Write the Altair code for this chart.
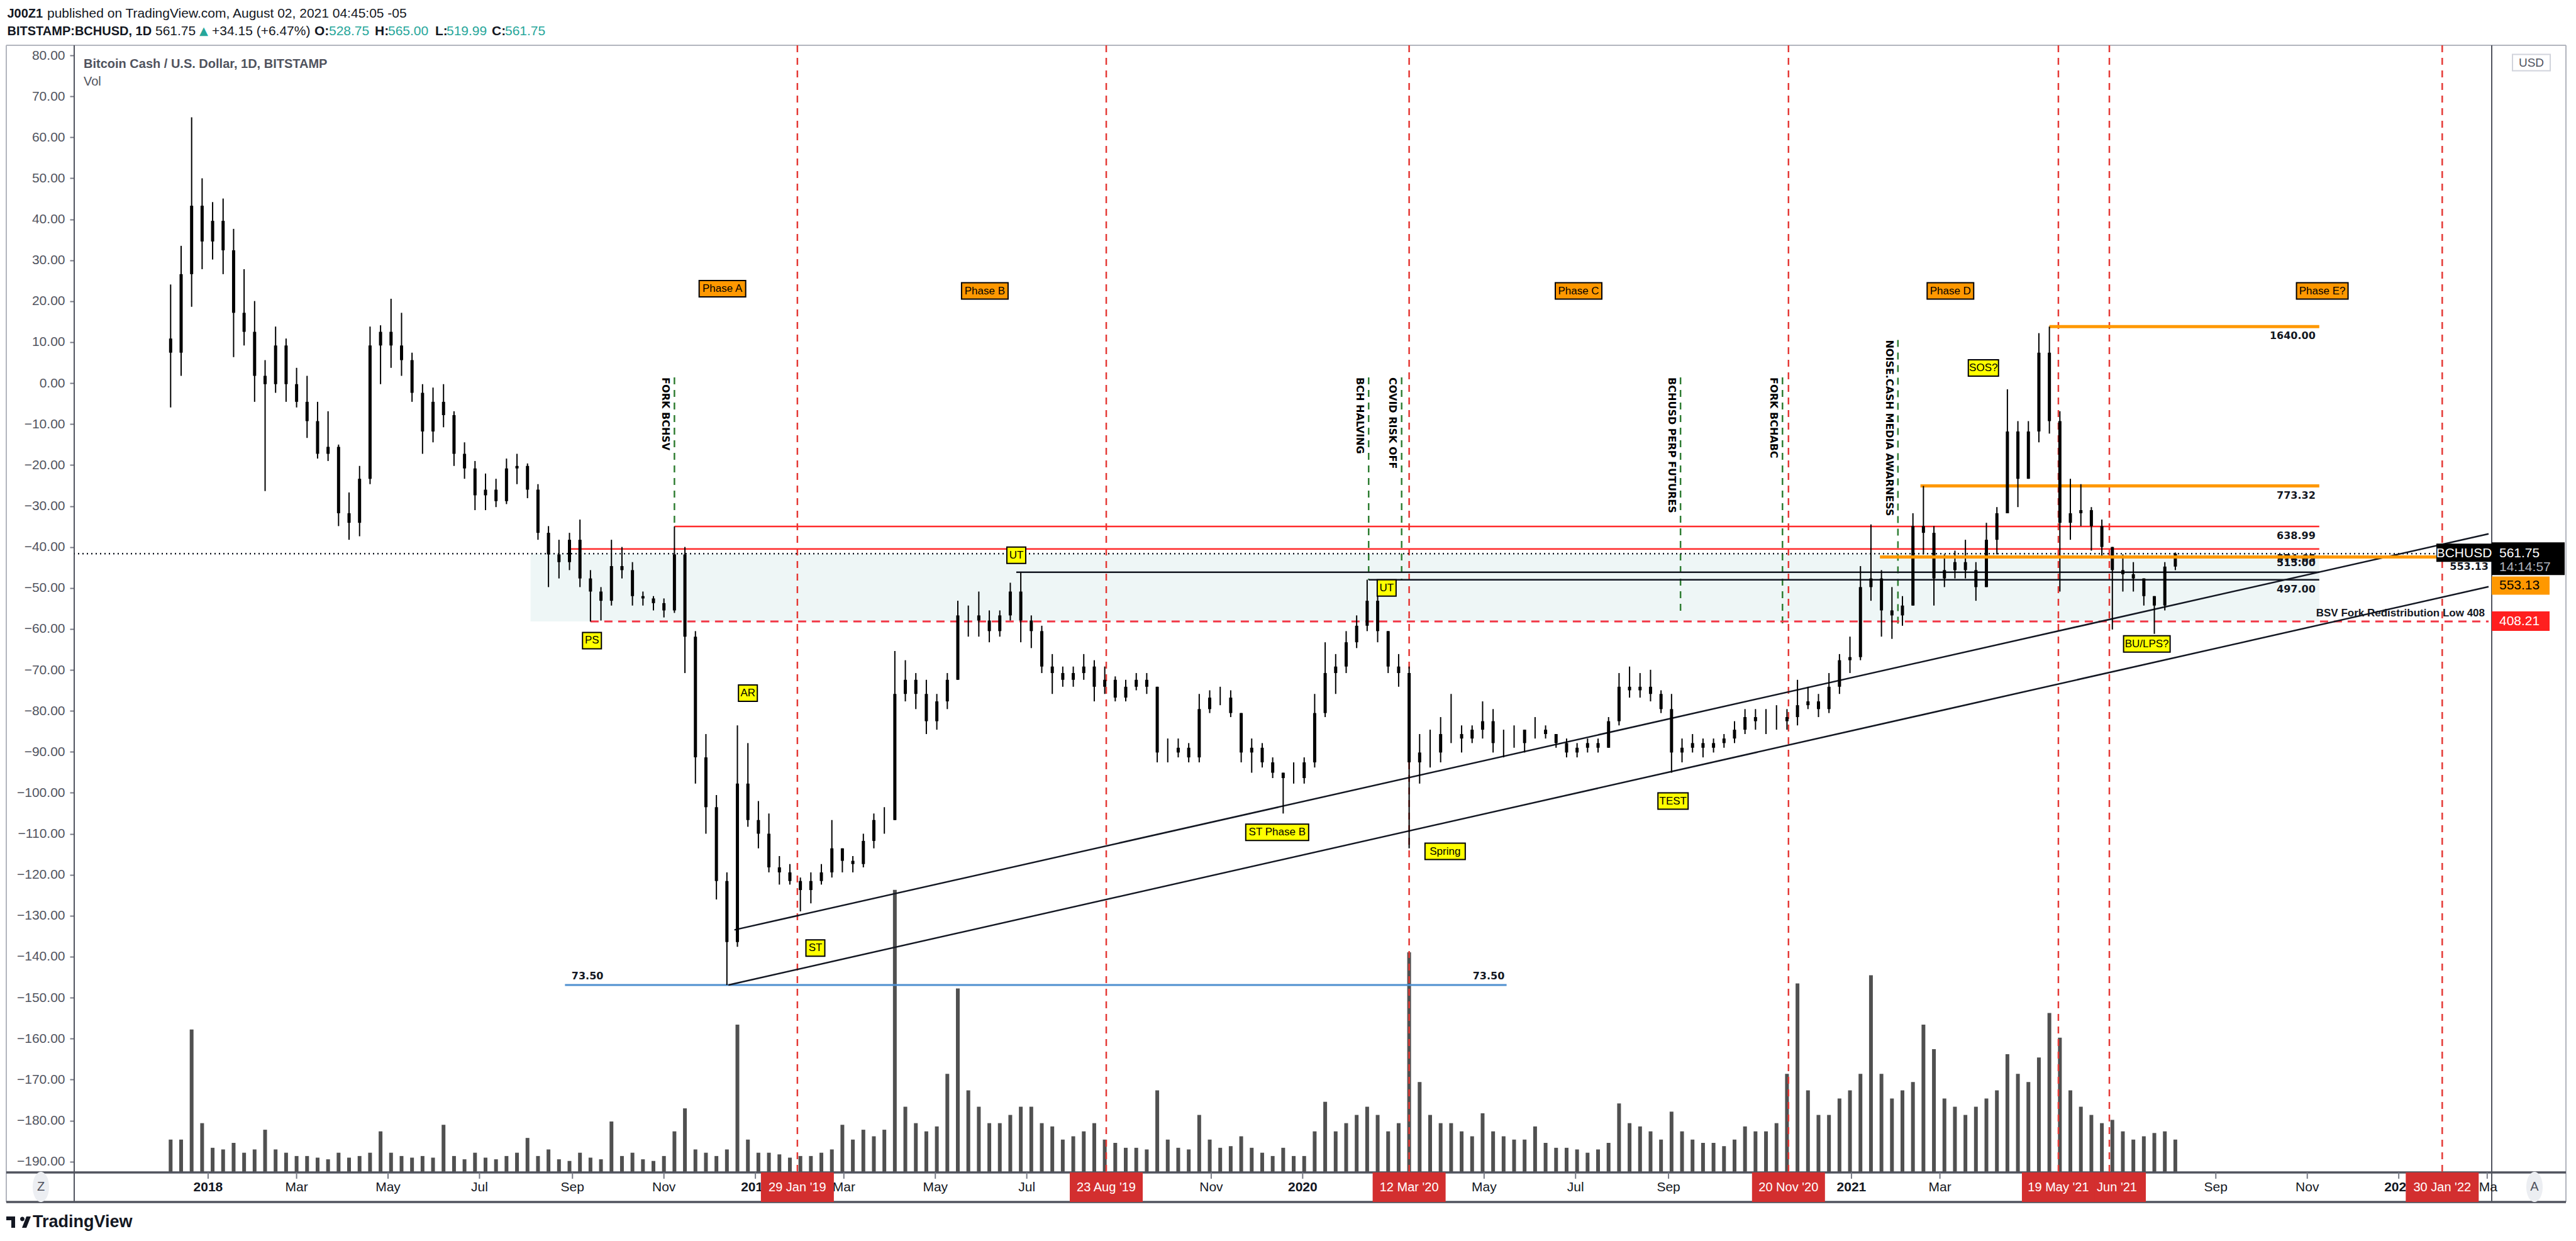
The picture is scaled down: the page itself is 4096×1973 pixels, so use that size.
import altair as alt
import pandas as pd

# ---------------- weekly candles (BITSTAMP:BCHUSD) ----------------
WEEK0 = "2017-12-04"      # Monday of the first weekly bucket
OPEN0 = 1550.0

high = [
    2000, 2400, 4400, 3300,
    # 2018
    2950, 3000, 2600, 2150, 1850,
    1400, 1640, 1550, 1350,
    1300, 1150, 1100, 940,
    750, 850, 1640, 1650, 1870,
    1750, 1450, 1250, 1230,
    1250, 1100, 950, 870,
    820, 800, 880, 900, 860,
    780, 640, 600, 620,
    660, 520, 480, 600,
    580, 540, 470, 460, 455,
    639, 580, 390, 240,
    180, 125, 250, 230, 175,
    # 2019
    165, 135, 130, 122,
    125, 130, 160, 140,
    135, 150, 165, 170,
    355, 340, 320, 310, 290,
    320, 450, 440, 470,
    430, 430, 490, 515,
    420, 400, 350, 330, 330,
    350, 340, 330, 315,
    310, 320, 320, 300, 235,
    235, 230, 290, 295,
    300, 295, 265, 235,
    230, 215, 200, 210, 215,
    # 2020
    290, 370, 350, 390,
    420, 497, 470, 390,
    350, 330, 240, 245, 260,
    290, 250, 250, 280,
    270, 245, 250, 245,
    260, 250, 240, 235, 230,
    235, 235, 260, 320,
    330, 320, 325, 295, 290,
    235, 240, 235, 235,
    240, 255, 270, 270,
    270, 275, 270, 310, 300,
    290, 320, 350, 380,
    # 2021
    530, 645, 520, 480,
    460, 680, 773.32, 640,
    560, 570, 600, 540, 650,
    700, 1220, 1050, 1050,
    1590, 1640, 1100, 800, 780,
    700, 660, 580, 560,
    540, 500, 460, 540,
    565,
]
low = [
    1120, 1300, 1800, 2150,
    # 2018
    2250, 2100, 1420, 1500, 1150,
    755, 1200, 1150, 1120,
    970, 880, 870, 640,
    600, 610, 780, 1250, 1350,
    1300, 1150, 900, 950,
    1020, 850, 800, 690,
    690, 700, 710, 780, 730,
    600, 480, 500, 520,
    480, 408, 410, 440,
    500, 440, 440, 430, 416,
    425, 320, 190, 150,
    110, 73.5, 88, 155, 140,
    # 2019
    125, 118, 118, 104,
    108, 118, 122, 125,
    125, 128, 140, 150,
    160, 280, 270, 240, 245,
    270, 310, 380, 380,
    370, 380, 410, 370,
    360, 320, 290, 300, 300,
    310, 280, 290, 280,
    280, 295, 290, 210, 210,
    215, 210, 210, 265,
    275, 260, 210, 200,
    205, 195, 165, 190, 190,
    # 2020
    205, 260, 290, 320,
    360, 390, 370, 320,
    300, 140, 190, 205, 210,
    230, 220, 230, 235,
    220, 215, 225, 220,
    235, 235, 225, 215, 215,
    220, 220, 225, 250,
    285, 285, 280, 265, 200,
    210, 220, 215, 220,
    225, 230, 240, 245,
    240, 245, 245, 250, 270,
    260, 265, 290, 320,
    # 2021
    340, 450, 380, 376,
    400, 440, 560, 440,
    480, 500, 500, 450, 480,
    560, 680, 700, 800,
    950, 990, 470, 600, 640,
    570, 550, 393, 470,
    470, 440, 385, 430,
    519.99,
]
close = [
    1450, 2100, 2900, 2450,
    # 2018
    2700, 2350, 1750, 1600, 1300,
    1250, 1500, 1250, 1150,
    1050, 900, 930, 680,
    650, 800, 1500, 1600, 1500,
    1400, 1200, 1000, 1150,
    1080, 900, 840, 740,
    760, 720, 840, 850, 760,
    620, 560, 540, 600,
    500, 470, 450, 530,
    520, 460, 455, 445, 430,
    560, 380, 215, 170,
    120, 90, 190, 160, 150,
    # 2019
    128, 125, 120, 115,
    120, 125, 140, 132,
    130, 145, 160, 160,
    290, 310, 290, 255, 280,
    310, 420, 420, 410,
    390, 420, 470, 410,
    390, 330, 320, 310, 320,
    330, 300, 310, 285,
    300, 310, 300, 220, 220,
    225, 215, 270, 285,
    285, 265, 220, 225,
    210, 200, 195, 195, 210,
    # 2020
    265, 320, 330, 370,
    400, 450, 390, 330,
    320, 210, 220, 220, 240,
    240, 235, 245, 255,
    230, 230, 230, 245,
    245, 240, 230, 220, 225,
    230, 225, 255, 300,
    295, 300, 290, 270, 220,
    225, 230, 225, 230,
    235, 245, 260, 255,
    255, 255, 260, 275, 280,
    270, 300, 340, 345,
    # 2021
    480, 500, 430, 420,
    440, 640, 620, 500,
    520, 540, 520, 480, 600,
    680, 1000, 800, 1000,
    1450, 1050, 650, 680, 690,
    640, 580, 520, 510,
    500, 460, 440, 528.75,
    561.75,
]
# weekly peak of the daily volume bars (chart units)
volume = [
    20, 20, 87, 30,
    # 2018
    15, 14, 18, 12, 14,
    26, 14, 12, 10,
    10, 9, 8, 12,
    9, 10, 12, 25, 12,
    10, 9, 10, 9,
    29, 10, 8, 12,
    9, 8, 10, 12, 21,
    10, 14, 8, 7,
    12, 9, 8, 31,
    10, 12, 8, 7, 10,
    25, 39, 14, 12,
    10, 14, 90, 20, 12,
    # 2019
    12, 11, 9, 10,
    10, 12, 14, 29,
    20, 26, 22, 26,
    172, 40, 30, 25, 28,
    60, 112, 50, 40,
    30, 30, 35, 40,
    40, 30, 28, 20, 22,
    25, 30, 20, 18,
    15, 15, 14, 50, 20,
    15, 14, 35, 20,
    15, 16, 22, 15,
    12, 10, 15, 10, 10,
    # 2020
    25, 43, 25, 30,
    35, 40, 35, 25,
    30, 134, 55, 35, 30,
    30, 25, 22, 36,
    25, 22, 20, 20,
    28, 18, 15, 15, 14,
    12, 14, 18, 42,
    30, 28, 25, 20, 37,
    25, 20, 18, 18,
    16, 20, 28, 25,
    25, 30, 60, 115, 50,
    35, 35, 45, 50,
    # 2021
    60, 120, 60, 45,
    50, 55, 90, 75,
    45, 40, 35, 40, 45,
    50, 72, 60, 55,
    70, 97, 82, 50, 40,
    35, 30, 32, 25,
    20, 22, 24, 25,
    20,
]

# ---------------- drawings ----------------
red_dates = ["2019-01-29", "2019-08-23", "2020-03-12", "2020-11-20", "2022-01-30", "2021-06-22", "2021-05-19"]
red_labels = ["29 Jan '19", "23 Aug '19", "12 Mar '20", "20 Nov '20", "30 Jan '22", "Jun '21", "19 May '21"]

event_names = ["FORK BCHSV", "BCH HALVING", "COVID RISK OFF", "BCHUSD PERP FUTURES", "FORK BCHABC",
               "NOISE.CASH MEDIA AWARNESS"]
event_line_dates = ["2018-11-08", "2020-02-14", "2020-03-07", "2020-09-09", "2020-11-16", "2021-02-01"]
event_text_dates = ["2018-11-02", "2020-02-08", "2020-03-01", "2020-09-03", "2020-11-10", "2021-01-26"]
event_top = [1290, 1290, 1290, 1290, 1290, 1540]
event_bottom = [639, 497, 497, 429, 400, 400]

phase_names = ["Phase A", "Phase B", "Phase C", "Phase D", "Phase E?"]
phase_dates = ["2018-12-10", "2019-06-03", "2020-07-03", "2021-03-08", "2021-11-11"]
phase_price = [1960, 1940, 1940, 1940, 1940]

wy_names = ["PS", "AR", "ST", "UT", "UT", "ST Phase B", "Spring", "TEST", "SOS?", "BU/LPS?"]
wy_dates = ["2018-09-14", "2018-12-27", "2019-02-10", "2019-06-24", "2020-02-26", "2019-12-15",
            "2020-04-05", "2020-09-04", "2021-03-30", "2021-07-17"]
wy_price = [373, 291, 87.5, 558, 478, 151, 138, 175, 1349, 367]

lvl_labels = ["1640.00", "773.32", "638.99", "574.65", "515.00", "497.00"]
lvl_values = [1640.00, 773.32, 638.99, 574.65, 515.00, 497.00]
lvl_start = ["2021-05-13", "2021-02-16", "2018-11-08", "2018-08-29", "2019-06-24", "2020-02-14"]
LVL_END = "2021-11-09"

ZONE = (408.21, 561.75, "2018-08-04")
BSV_LOW = (408.21, "2018-09-13", "BSV Fork Redistribution Low 408")
SUPPORT = (553.13, "2021-01-20")
LOW73 = (73.50, "2018-08-27", "2020-05-16", ["2018-09-11", "2020-05-04"])
trend_dates = [["2018-12-18", "2022-03-01T22:00:00Z"], ["2018-12-14", "2022-03-01T22:00:00Z"]]
trend_prices = [[95.3, 617.0], [73.5, 481.0]]
LAST = 561.75
COUNTDOWN = "14:14:57"

# time-scale labels as they show (some are hidden or cut by the date tags)
tick_hidden = ["2019-09-01", "2020-03-01", "2020-11-01", "2021-05-01", "2021-07-01"]
tick_cut = {"2019-01-01": "201", "2022-01-01": "202", "2022-03-01": "Ma"}

# ---------------- layout constants (pixels) ----------------
W, H = 3844, 1792
X_START, X_END = "2017-10-05T19:00:00Z", "2022-03-01T22:00:00Z"
FONT = "Liberation Sans"
DFONT = "DejaVu Sans"
INK = "#131722"
GREY = "#50535e"
UPC = "#26a69a"


def ms(s):
    return int(pd.Timestamp(s).value // 10**6)


XS = alt.Scale(type="utc", domain=[ms(X_START), ms(X_END)], nice=False)
PY = alt.Scale(type="log", domain=[30.36, 6180], nice=False, zero=False)
LY = alt.Scale(domain=[-192.66, 82.46], nice=False, zero=False)
VY = alt.Scale(domain=[0, 686], nice=False, zero=False)


def box(x0, x1, y0, y1):
    return f"M{x0},{y0}H{x1}V{y1}H{x0}Z"


def X(f):
    return alt.X(f, scale=XS, axis=None)


def Y(f):
    return alt.Y(f, scale=PY, axis=None)


# ---------------- tables ----------------
dates = (pd.date_range(WEEK0, periods=len(close), freq="7D") + pd.Timedelta(days=3)).strftime("%Y-%m-%d")
opens = [OPEN0] + close[:-1]
cdf = pd.DataFrame({"date": dates, "open": opens, "high": high, "low": low, "close": close, "vol": volume})

red_df = pd.DataFrame({"d": red_dates, "label": red_labels, "i": range(len(red_dates))})
red_df["path"] = box(-58, 58, -23.5, 23.5)
ev_df = pd.DataFrame({"d": event_line_dates, "td": event_text_dates, "name": event_names,
                      "top": event_top, "bot": event_bottom})
ph_df = pd.DataFrame({"d": phase_dates, "p": phase_price, "name": phase_names})
ph_df["path"] = [box(-round(4.4 * len(s) + 6), round(4.4 * len(s) + 6), -13, 13) for s in phase_names]
wy_df = pd.DataFrame({"d": wy_dates, "p": wy_price, "name": wy_names})
wy_df["path"] = [box(-round(4.4 * len(s) + 6), round(4.4 * len(s) + 6), -13, 13) for s in wy_names]
lvl_df = pd.DataFrame({"x1": lvl_start, "x2": LVL_END, "p": lvl_values, "label": lvl_labels,
                       "kind": ["orange", "orange", "red", "red", "black", "black"],
                       "pos": ["below", "below", "below", "below", "above", "below"]})
zone_df = pd.DataFrame({"x1": [ZONE[2]], "x2": [LVL_END], "p1": [ZONE[0]], "p2": [ZONE[1]]})
bsv_df = pd.DataFrame({"x1": [BSV_LOW[1]], "x2": [X_END], "p": [BSV_LOW[0]], "label": [BSV_LOW[2]],
                       "val": [f"{BSV_LOW[0]:.2f}"]})
sup_df = pd.DataFrame({"x1": [SUPPORT[1]], "x2": [X_END], "p": [SUPPORT[0]], "label": [f"{SUPPORT[0]:.2f}"]})
low_df = pd.DataFrame({"x1": [LOW73[1]], "x2": [LOW73[2]], "p": [LOW73[0]]})
lowlab_df = pd.DataFrame({"d": LOW73[3], "p": [LOW73[0]] * 2, "label": [f"{LOW73[0]:.2f}"] * 2})
tr_rows = []
for k in range(len(trend_dates)):
    for d, p in zip(trend_dates[k], trend_prices[k]):
        tr_rows.append({"line": k, "d": d, "p": p})
tr_df = pd.DataFrame(tr_rows)
last_df = pd.DataFrame({"p": [LAST], "label": [f"{LAST:.2f}"], "cd": [COUNTDOWN]})

tick_dates = pd.date_range("2018-01-01", "2022-03-01", freq="2MS")
tick_rows = []
for t in tick_dates:
    key = t.strftime("%Y-%m-%d")
    if key in tick_hidden:
        kind = "hidden"
        lab = ""
    elif key in tick_cut:
        lab = tick_cut[key]
        kind = "cutyear" if t.month == 1 else "cutmonth"
    else:
        lab = t.strftime("%Y") if t.month == 1 else t.strftime("%b")
        kind = "year" if t.month == 1 else "month"
    tick_rows.append({"d": key, "label": lab, "kind": kind})
tick_df = pd.DataFrame(tick_rows)

# ---------------- price pane ----------------
right_vals = [6000, 5000, 4200, 3600, 3000, 2500, 2100, 1800, 1550, 1300, 1100, 940, 780, 655, 560, 475, 395,
              335, 285, 245, 205, 175, 150, 126, 106, 91, 77, 65, 56, 47, 40, 34]
y_axis = alt.Axis(orient="right", values=right_vals, format=".2f", labelFont=FONT, labelFontSize=21, labelColor=GREY,
                  tickSize=7, tickColor="#787b86", tickWidth=2, labelPadding=8, domain=False, grid=False,
                  title=None, labelOverlap=False, labelBound=False)

zone = alt.Chart(zone_df).mark_rect(color="#eef6f6").encode(x=X("x1:T"), x2="x2:T", y=Y("p1:Q"), y2="p2:Q")
red_v = alt.Chart(red_df).mark_rule(color="#e53935", strokeWidth=2.5, strokeDash=[11, 9]).encode(x=X("d:T"))
green_v = alt.Chart(ev_df).mark_rule(color="#2e7d32", strokeWidth=2.5, strokeDash=[11, 9]).encode(
    x=X("d:T"), y=Y("top:Q"), y2="bot:Q")
low_line = alt.Chart(low_df).mark_rule(color="#4f8fd0", strokeWidth=3).encode(x=X("x1:T"), x2="x2:T", y=Y("p:Q"))
lvl_orange = alt.Chart(lvl_df).transform_filter("datum.kind == 'orange'").mark_rule(
    color="#ff9800", strokeWidth=5).encode(x=X("x1:T"), x2="x2:T", y=Y("p:Q"))
lvl_red = alt.Chart(lvl_df).transform_filter("datum.kind == 'red'").mark_rule(
    color="#ff2b2b", strokeWidth=2.5).encode(x=X("x1:T"), x2="x2:T", y=Y("p:Q"))
lvl_black = alt.Chart(lvl_df).transform_filter("datum.kind == 'black'").mark_rule(
    color=INK, strokeWidth=2.5).encode(x=X("x1:T"), x2="x2:T", y=Y("p:Q"))
bsv_line = alt.Chart(bsv_df).mark_rule(color="#f23645", strokeWidth=3, strokeDash=[13, 9]).encode(
    x=X("x1:T"), x2="x2:T", y=Y("p:Q"))
last_line = alt.Chart(last_df).mark_rule(color=INK, strokeWidth=2.5, strokeDash=[2, 5]).encode(y=Y("p:Q"))
trend = alt.Chart(tr_df).mark_line(color=INK, strokeWidth=2.5).encode(x=X("d:T"), y=Y("p:Q"), detail="line:N")
wick = alt.Chart(cdf).mark_rule(color="#000000", strokeWidth=2).encode(x=X("date:T"), y=Y("low:Q"), y2="high:Q")
body = alt.Chart(cdf).mark_bar(color="#000000", size=5).encode(
    x=X("date:T"), y=alt.Y("open:Q", scale=PY, axis=y_axis), y2="close:Q")

lab_below = alt.Chart(lvl_df).transform_filter("datum.pos == 'below'").mark_text(
    align="right", baseline="middle", dx=-6, dy=15, font=DFONT, fontWeight="bold", fontSize=16, color=INK
).encode(x=X("x2:T"), y=Y("p:Q"), text="label:N")
lab_above = alt.Chart(lvl_df).transform_filter("datum.pos == 'above'").mark_text(
    align="right", baseline="middle", dx=-6, dy=-15, font=DFONT, fontWeight="bold", fontSize=16, color=INK
).encode(x=X("x2:T"), y=Y("p:Q"), text="label:N")
low_lab = alt.Chart(lowlab_df).mark_text(align="center", baseline="middle", dy=-14, font=DFONT,
                                          fontWeight="bold", fontSize=16, color=INK).encode(
    x=X("d:T"), y=Y("p:Q"), text="label:N")
bsv_lab = alt.Chart(bsv_df).mark_text(align="right", baseline="middle", dx=-6, dy=-13, font=FONT,
                                       fontWeight="bold", fontSize=17, color=INK).encode(
    x=X("x2:T"), y=Y("p:Q"), text="label:N")
ev_text = alt.Chart(ev_df).mark_text(angle=90, align="left", baseline="middle", font=DFONT, fontWeight="bold",
                                      fontSize=16, color="#000000").encode(
    x=X("td:T"), y=Y("top:Q"), text="name:N")
sup_line = alt.Chart(sup_df).mark_rule(color="#ff9800", strokeWidth=5).encode(x=X("x1:T"), x2="x2:T", y=Y("p:Q"))
sup_lab = alt.Chart(sup_df).mark_text(align="right", baseline="middle", dy=15, font=DFONT, fontWeight="bold",
                                       fontSize=16, color=INK).encode(
    x=alt.value(W - 5), y=Y("p:Q"), text="label:N")


def tag_layers(df, fill):
    b = alt.Chart(df).mark_point(filled=True, fill=fill, stroke="#000000", strokeWidth=2, size=4, opacity=1).encode(
        x=X("d:T"), y=Y("p:Q"), shape=alt.Shape("path:N", scale=None))
    t = alt.Chart(df).mark_text(align="center", baseline="middle", font=FONT, fontSize=17, color="#000000").encode(
        x=X("d:T"), y=Y("p:Q"), text="name:N")
    return [b, t]


# BCHUSD tag inside pane and the price-scale tags
bch_box = alt.Chart(last_df).mark_point(filled=True, fill="#000000", size=4, opacity=1, shape=box(-88, 0, -16, 13)
                                        ).encode(x=alt.value(W), y=Y("p:Q"))
bch_txt = alt.Chart(last_df).mark_text(text="BCHUSD", align="center", baseline="middle", font=FONT, fontSize=21,
                                       color="#ffffff").encode(x=alt.value(W - 44), y=Y("p:Q"))
last_box = alt.Chart(last_df).mark_point(filled=True, fill="#000000", size=4, opacity=1, shape=box(0, 116, -18, 34)
                                         ).encode(x=alt.value(W), y=Y("p:Q"))
last_txt = alt.Chart(last_df).mark_text(align="left", baseline="middle", font=FONT, fontSize=21, color="#ffffff"
                                        ).encode(x=alt.value(W + 12), y=Y("p:Q"), text="label:N")
cd_txt = alt.Chart(last_df).mark_text(align="left", baseline="middle", dy=22, font=FONT, fontSize=21,
                                      color="#b2b5be").encode(x=alt.value(W + 12), y=Y("p:Q"), text="cd:N")
sup_box = alt.Chart(sup_df).mark_point(filled=True, fill="#ff9800", size=4, opacity=1, shape=box(0, 92, 31, 60)
                                       ).encode(x=alt.value(W), y=Y("p:Q"))
sup_txt = alt.Chart(sup_df).mark_text(align="left", baseline="middle", dy=45.5, font=FONT, fontSize=21,
                                      color="#000000").encode(x=alt.value(W + 12), y=Y("p:Q"), text="label:N")
bsv_box = alt.Chart(bsv_df).mark_point(filled=True, fill="#ff1f1f", size=4, opacity=1, shape=box(0, 92, -16, 15)
                                       ).encode(x=alt.value(W), y=Y("p:Q"))
bsv_txt = alt.Chart(bsv_df).mark_text(align="left", baseline="middle", font=FONT, fontSize=21, color="#ffffff"
                                      ).encode(x=alt.value(W + 12), y=Y("p:Q"), text="val:N")

# time scale: ticks and labels drawn as marks
t_ticks = alt.Chart(tick_df).mark_rule(color="#787b86", strokeWidth=2).encode(
    x=X("d:T"), y=alt.value(H), y2=alt.value(H + 10))


def tick_text(kind, weight, align="center", dx=0):
    return alt.Chart(tick_df).transform_filter(f"datum.kind == '{kind}'").mark_text(
        align=align, baseline="middle", dx=dx, font=FONT, fontSize=21, fontWeight=weight, color=INK).encode(
        x=X("d:T"), y=alt.value(H + 24), text="label:N")


t_labels = [tick_text("year", "bold"), tick_text("month", "normal"),
            tick_text("cutyear", "bold", align="left", dx=-23), tick_text("cutmonth", "normal", align="left", dx=-13)]


# date tags under the time scale (19 May drawn last, over the Jun tag)
def date_tags(cond, dx=0):
    b = alt.Chart(red_df).transform_filter(cond).mark_point(filled=True, fill="#d32f2f", size=4, opacity=1).encode(
        x=X("d:T"), y=alt.value(H + 23.5), shape=alt.Shape("path:N", scale=None))
    t = alt.Chart(red_df).transform_filter(cond).mark_text(align="center", baseline="middle", font=FONT, dx=dx,
                                                           fontSize=20, color="#ffffff").encode(
        x=X("d:T"), y=alt.value(H + 24), text="label:N")
    return [b, t]


n_red = len(red_dates)
price_group = alt.layer(
    zone, red_v, green_v, low_line, lvl_orange, lvl_red, lvl_black, bsv_line, last_line, trend,
    wick, body, lab_below, lab_above, low_lab, bsv_lab, ev_text, sup_line, sup_lab,
    *tag_layers(ph_df, "#ff9800"), *tag_layers(wy_df, "#ffff00"),
    bch_box, bch_txt, last_box, last_txt, cd_txt, sup_box, sup_txt, bsv_box, bsv_txt,
    t_ticks, *t_labels,
    *date_tags(f"datum.i < {n_red - 2}"),
    *date_tags(f"datum.i == {n_red - 2}", dx=12),
    *date_tags(f"datum.i == {n_red - 1}"),
)

# ---------------- volume overlay ----------------
vol_layer = alt.Chart(cdf).mark_bar(color="#505050", size=6).encode(
    x=X("date:T"), y=alt.Y("vol:Q", scale=VY, axis=None))

# ---------------- left scale ----------------
left_axis = alt.Axis(orient="left", values=list(range(-190, 81, 10)), format=".2f", labelFont=FONT,
                     labelFontSize=21, labelColor=GREY, tickSize=7, tickColor="#787b86", tickWidth=2,
                     labelPadding=8, domain=False, grid=False, title=None, labelOverlap=False)
left_dummy = alt.Chart(pd.DataFrame({"v": [0.0]})).mark_point(opacity=0).encode(
    y=alt.Y("v:Q", scale=LY, axis=left_axis))

# ---------------- chrome: frame, header, footer ----------------
one = pd.DataFrame({"k": [0]})


def vrule(x, x2, y, y2, color, width):
    return alt.Chart(one).mark_rule(color=color, strokeWidth=width).encode(
        x=alt.value(x), x2=alt.value(x2), y=alt.value(y), y2=alt.value(y2))


def vtext(txt, x, y, size=21, weight="normal", color=INK, align="left", font=FONT):
    return alt.Chart(one).mark_text(text=txt, align=align, baseline="middle", fontSize=size, fontWeight=weight,
                                    color=color, font=font).encode(x=alt.value(x), y=alt.value(y))


def vshape(path, x, y, fill, stroke=None):
    kw = dict(filled=True, fill=fill, size=4, opacity=1, shape=path)
    if stroke:
        kw.update(stroke=stroke, strokeWidth=2)
    return alt.Chart(one).mark_point(**kw).encode(x=alt.value(x), y=alt.value(y))


frame = [
    vrule(-108, 3962, 0, 0, "#b2b5be", 2),
    vrule(-108, -108, 0, 1839, "#b2b5be", 2),
    vrule(3962, 3962, 0, 1839, "#b2b5be", 2),
    vrule(0, 0, 0, 1839, GREY, 2),
    vrule(W, W, 0, 1839, GREY, 2),
    vrule(-108, 3962, H, H, GREY, 3.5),
    vrule(-108, 3962, 1839, 1839, GREY, 3.5),
]

header = [
    vtext("J00Z1", -106.5, -50, weight="bold", size=20),
    vtext("published on TradingView.com, August 02, 2021 04:45:05 -05", -43, -50),
    vtext("BITSTAMP:BCHUSD, 1D", -106.5, -22, weight="bold", size=20),
    vtext("561.75", 129, -22),
    vtext("\u25B2", 199, -22, color=UPC, font=DFONT, size=18),
    vtext("+34.15 (+6.47%)", 219, -22),
    vtext("O:", 382, -22, weight="bold"), vtext("528.75", 405, -22, color=UPC),
    vtext("H:", 478, -22, weight="bold"), vtext("565.00", 499, -22, color=UPC),
    vtext("L:", 574, -22, weight="bold"), vtext("519.99", 592, -22, color=UPC),
    vtext("C:", 664, -22, weight="bold"), vtext("561.75", 685, -22, color=UPC),
    vtext("Bitcoin Cash / U.S. Dollar, 1D, BITSTAMP", 15, 30, size=20, weight="bold", color=GREY),
    vtext("Vol", 15, 58, size=20, color=GREY),
]

ellipse = "M0,-24A13,24 0 1,1 0,24A13,24 0 1,1 0,-24Z"
logo = "M-18,-9H-4V9H-10V-3H-18Z M4,-5A3.5,3.5 0 1,1 4,-4.99Z M7,9L14,-9H21L14,9Z"
footer = [
    vshape(box(-30, 30, -13, 13), 3907, 27.5, "#ffffff", "#d1d4dc"),
    vtext("USD", 3907, 28, size=19, color=GREY, align="center"),
    vshape(ellipse, -53, 1815, "#eceef2"),
    vtext("Z", -53, 1815, size=20, color=GREY, align="center"),
    vshape(ellipse, 3912, 1815, "#eceef2"),
    vtext("A", 3912, 1815, size=20, color=GREY, align="center"),
    vshape(logo, -90, 1871, INK),
    vtext("TradingView", -66, 1871, size=27, weight="bold"),
]

chart = alt.layer(
    left_dummy, vol_layer, *frame, price_group, *header, *footer
).resolve_scale(y="independent").properties(
    width=W, height=H,
    padding={"left": 110, "top": 64, "right": 126, "bottom": 100},
    autosize=alt.AutoSizeParams(type="none"),
).configure_view(stroke="transparent").configure(background="#ffffff")

chart.save("out.html", embed_options={"renderer": "svg", "actions": False})
